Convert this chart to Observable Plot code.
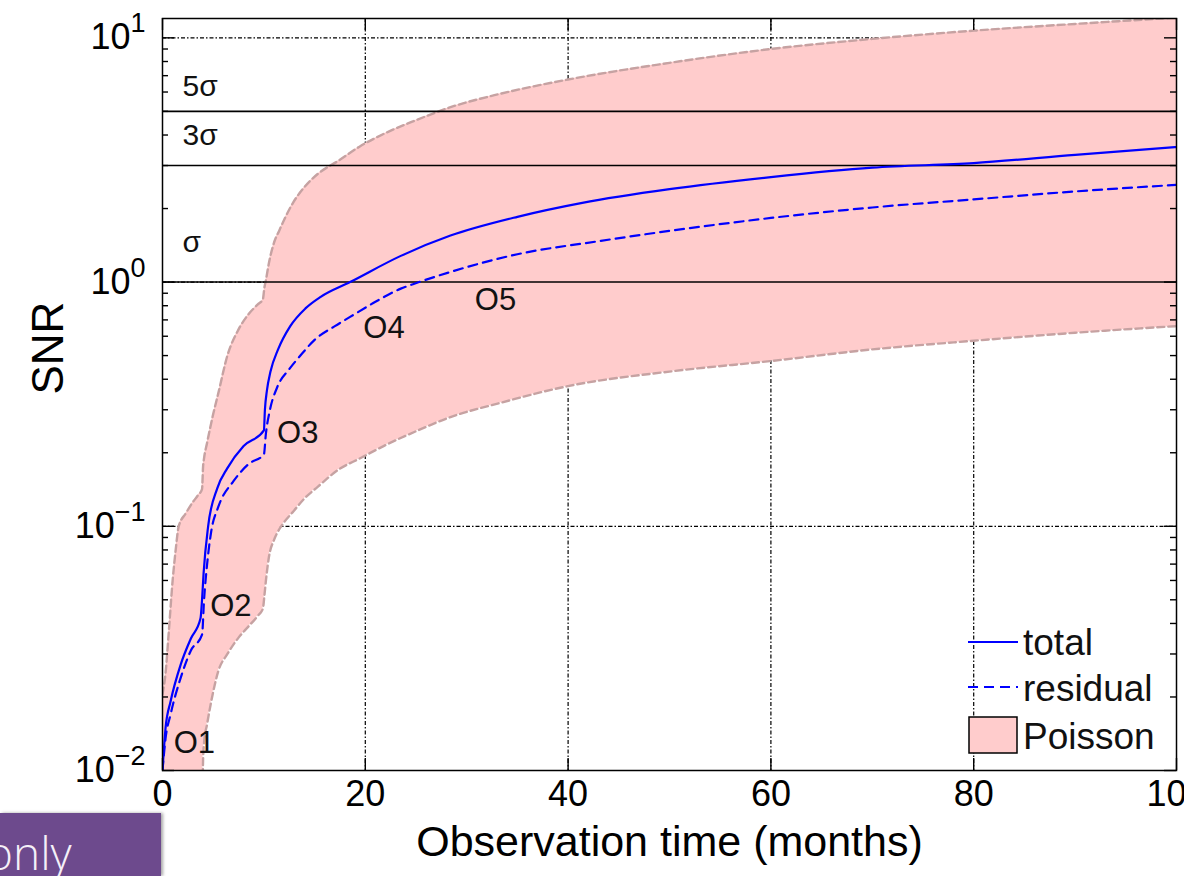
<!DOCTYPE html>
<html>
<head>
<meta charset="utf-8">
<script src="https://cdn.jsdelivr.net/npm/d3@7"></script>
<script src="https://cdn.jsdelivr.net/npm/@observablehq/plot@0.6"></script>
<style>
html, body { margin: 0; padding: 0; background: #fff; overflow: hidden; }
#wrap { position: relative; width: 1184px; height: 876px; overflow: hidden; background: #fff; }
#wrap > svg { display: block; }
.overlay { position: absolute; left: 0; top: 0; pointer-events: none; }
</style>
</head>
<body>
<div id="wrap"></div>
<script>
// ---- axis ticks ----
const xTicks = [0, 20, 40, 60, 80, 100];
const xGrid = [20, 40, 60, 80];
const yTicks = [0.01, 0.1, 1, 10];
const yTickExp = ["\u22122", "\u22121", "0", "1"];
const yGrid = [0.1, 1, 10];
const yMinor = [0.02, 0.03, 0.04, 0.05, 0.06, 0.07, 0.08, 0.09,
                0.2, 0.3, 0.4, 0.5, 0.6, 0.7, 0.8, 0.9,
                2, 3, 4, 5, 6, 7, 8, 9];

// ---- significance levels ----
const sigmaLevels = [1, 3, 5];
const sigmaLabels = ["\u03c3", "3\u03c3", "5\u03c3"];
const sigmaLabelAt = [1.46, 3.97, 6.3];

// ---- observing run labels ----
const runLabels = ["O1", "O2", "O3", "O4", "O5"];
const runLabelX = [1.1, 4.7, 11.3, 19.8, 30.8];
const runLabelY = [0.0129, 0.047, 0.24, 0.647, 0.843];

// ---- total SNR ----
const totalX = [0, 0.3, 0.8, 1.8, 2.8, 3.75, 3.9, 4.05, 4.5, 5.4, 6.4, 8.0, 10.0, 10.1, 10.3, 10.65, 11.4, 12.6, 14.1, 15.6, 18.5, 23.5, 28.4, 35, 41.4, 50, 60, 70, 80, 90, 100];
const totalY = [0.01, 0.0149, 0.0192, 0.0272, 0.0347, 0.042, 0.05, 0.064, 0.10, 0.143, 0.173, 0.213, 0.247, 0.30, 0.36, 0.43, 0.53, 0.66, 0.78, 0.87, 1.0, 1.28, 1.55, 1.85, 2.11, 2.40, 2.69, 2.94, 3.07, 3.32, 3.57];

// ---- residual SNR ----
const residualX = [0, 0.3, 0.8, 1.8, 2.8, 3.9, 4.1, 4.4, 4.8, 5.5, 7.0, 8.5, 10.0, 10.2, 10.6, 11.3, 12.5, 13.6, 15, 17, 18.5, 21, 23.5, 24.7, 28.4, 35, 43, 50, 60, 70, 80, 90, 100];
const residualY = [0.01, 0.0135, 0.017, 0.024, 0.031, 0.036, 0.05, 0.07, 0.095, 0.12, 0.153, 0.18, 0.197, 0.24, 0.30, 0.37, 0.44, 0.50, 0.58, 0.66, 0.72, 0.83, 0.94, 0.98, 1.10, 1.30, 1.47, 1.62, 1.83, 2.02, 2.18, 2.35, 2.50];

// ---- Poisson band ----
const bandX = [0, 0.3, 0.6, 1.0, 1.3, 1.6, 2.3, 2.9, 3.5, 3.9, 4.0, 4.1, 4.4, 5.0, 5.5, 6.4, 7.5, 8.5, 9.4, 9.9, 10.05, 10.2, 10.5, 11.0, 11.5, 12.0, 12.9, 14, 15.3, 17.3, 19.5, 21.8, 25, 28.4, 33.3, 40, 50, 60, 70, 80, 90, 100];
const bandHigh = [0.0205, 0.025, 0.036, 0.06, 0.08, 0.1, 0.113, 0.124, 0.134, 0.142, 0.175, 0.19, 0.22, 0.288, 0.35, 0.50, 0.64, 0.74, 0.81, 0.85, 0.95, 1.02, 1.2, 1.45, 1.62, 1.8, 2.12, 2.45, 2.77, 3.13, 3.6, 4.04, 4.6, 5.2, 5.9, 6.75, 7.9, 9.0, 9.9, 10.7, 11.4, 12.1];
const bandLow = [0.006, 0.006, 0.006, 0.006, 0.006, 0.006, 0.006, 0.006, 0.006, 0.006, 0.011, 0.013, 0.0155, 0.021, 0.0255, 0.030, 0.035, 0.039, 0.043, 0.046, 0.052, 0.06, 0.075, 0.088, 0.097, 0.104, 0.115, 0.13, 0.145, 0.17, 0.19, 0.213, 0.245, 0.28, 0.32, 0.375, 0.43, 0.475, 0.53, 0.575, 0.62, 0.66];

// ---- texts ----
const xTitle = "Observation time (months)";
const yTitle = "SNR";
const legendLabels = ["total", "residual", "Poisson"];
const cornerText = "only";

// ---- tables ----
const band = bandX.map((x, i) => ({x, lo: bandLow[i], hi: bandHigh[i]}));
const total = totalX.map((x, i) => ({x, y: totalY[i]}));
const residual = residualX.map((x, i) => ({x, y: residualY[i]}));
const sigmaText = sigmaLabels.map((label, i) => ({label, y: sigmaLabelAt[i]}));
const runText = runLabels.map((label, i) => ({label, x: runLabelX[i], y: runLabelY[i]}));

const W = 1184, H = 876, ML = 162, MR = 8, MT = 18, MB = 106;
const FW = W - ML - MR, FH = H - MT - MB;
const MAJOR = 12, MINOR = 6;

const BLUE = "#0000ff";
const PINK = "#ffcccc";
const EDGE = "#c6a2a2";
const FONT = '"Liberation Sans", Arial, Helvetica, sans-serif';
const gridStyle = {stroke: "#000", strokeOpacity: 1, strokeWidth: 1.2, strokeDasharray: "4,2,1.5,2"};
const tickStyle = {stroke: "#000", strokeWidth: 1.4};

const chart = Plot.plot({
  width: W,
  height: H,
  marginLeft: ML,
  marginRight: MR,
  marginTop: MT,
  marginBottom: MB,
  style: {fontFamily: FONT, background: "#fff", color: "#000"},
  x: {domain: [0, 100], label: null},
  y: {type: "log", domain: [0.01, 12], label: null},
  marks: [
    Plot.gridX(xGrid, gridStyle),
    Plot.gridY(yGrid, gridStyle),
    Plot.areaY(band, {x: "x", y1: "lo", y2: "hi", fill: PINK, curve: "monotone-x", clip: true}),
    Plot.line(band, {x: "x", y: "hi", stroke: EDGE, strokeWidth: 2.4, strokeDasharray: "7,4", curve: "monotone-x", clip: true}),
    Plot.line(band, {x: "x", y: "lo", stroke: EDGE, strokeWidth: 2.4, strokeDasharray: "7,4", curve: "monotone-x", clip: true}),
    Plot.ruleY(sigmaLevels, {stroke: "#000", strokeWidth: 1.6}),
    Plot.line(residual, {x: "x", y: "y", stroke: BLUE, strokeWidth: 2.2, strokeDasharray: "9,6", curve: "monotone-x", clip: true}),
    Plot.line(total, {x: "x", y: "y", stroke: BLUE, strokeWidth: 2.2, curve: "monotone-x", clip: true}),
    Plot.text(sigmaText, {frameAnchor: "left", dx: 20, y: "y", text: "label", textAnchor: "start", fontSize: 30, fill: "#111"}),
    Plot.text(runText, {x: "x", y: "y", text: "label", textAnchor: "start", fontSize: 31, fill: "#111"}),
    // inward ticks (rules trimmed by insets)
    Plot.ruleX(xTicks, {...tickStyle, insetTop: FH - MAJOR}),
    Plot.ruleX(xTicks, {...tickStyle, insetBottom: FH - MAJOR}),
    Plot.ruleY(yTicks, {...tickStyle, insetRight: FW - MAJOR}),
    Plot.ruleY(yTicks, {...tickStyle, insetLeft: FW - MAJOR}),
    Plot.ruleY(yMinor, {...tickStyle, insetRight: FW - MINOR}),
    Plot.ruleY(yMinor, {...tickStyle, insetLeft: FW - MINOR}),
    Plot.frame({stroke: "#000", strokeWidth: 1.5}),
    // tick labels
    Plot.axisX(xTicks, {anchor: "bottom", tickSize: 0, tickPadding: 10, fontSize: 36, label: null, tickFormat: d => String(d)}),
    Plot.axisY(yTicks, {anchor: "left", tickSize: 0, tickPadding: 17, fontSize: 36, label: null,
      tickFormat: d => "10^" + yTickExp[yTicks.indexOf(d)]}),
    // titles
    Plot.text([xTitle], {frameAnchor: "bottom", dy: 85, fontSize: 43, text: d => d}),
    Plot.text([yTitle], {frameAnchor: "left", dx: -114, rotate: -90, fontSize: 44, text: d => d})
  ]
});

// superscripts for y tick labels
chart.querySelectorAll("text").forEach(t => {
  const s = t.textContent;
  if (s.includes("^")) {
    const [base, exp] = s.split("^");
    t.textContent = base;
    const ts = document.createElementNS("http://www.w3.org/2000/svg", "tspan");
    ts.setAttribute("dy", "-17");
    ts.setAttribute("font-size", "27");
    ts.textContent = exp;
    t.appendChild(ts);
  }
});

const wrap = document.getElementById("wrap");
wrap.appendChild(chart);

// legend overlay
const NS = "http://www.w3.org/2000/svg";
const lg = document.createElementNS(NS, "svg");
lg.setAttribute("width", W);
lg.setAttribute("height", H);
lg.setAttribute("class", "overlay");
lg.innerHTML = `
  <g font-family='${FONT}' font-size="37" fill="#111">
    <line x1="968" x2="1018" y1="642" y2="642" stroke="${BLUE}" stroke-width="2.2"/>
    <text x="1023" y="655">${legendLabels[0]}</text>
    <line x1="968" x2="1018" y1="687" y2="687" stroke="${BLUE}" stroke-width="2.2" stroke-dasharray="10,6"/>
    <text x="1023" y="701">${legendLabels[1]}</text>
    <rect x="969" y="717" width="48" height="36" fill="${PINK}" stroke="#000" stroke-width="1.5"/>
    <text x="1023" y="749">${legendLabels[2]}</text>
  </g>`;
wrap.appendChild(lg);

// purple corner box
const box = document.createElement("div");
box.style.cssText = "position:absolute;left:0;top:813px;width:161px;height:63px;background:#6d4a8d;box-shadow:2px 0 3px rgba(0,0,0,0.35);overflow:hidden;";
box.innerHTML = `<svg width="161" height="63"><text x="-14" y="57" font-family="'Open Sans', sans-serif" font-weight="300" font-size="46" fill="#f5f0f8">${cornerText}</text></svg>`;
wrap.appendChild(box);
</script>
</body>
</html>
